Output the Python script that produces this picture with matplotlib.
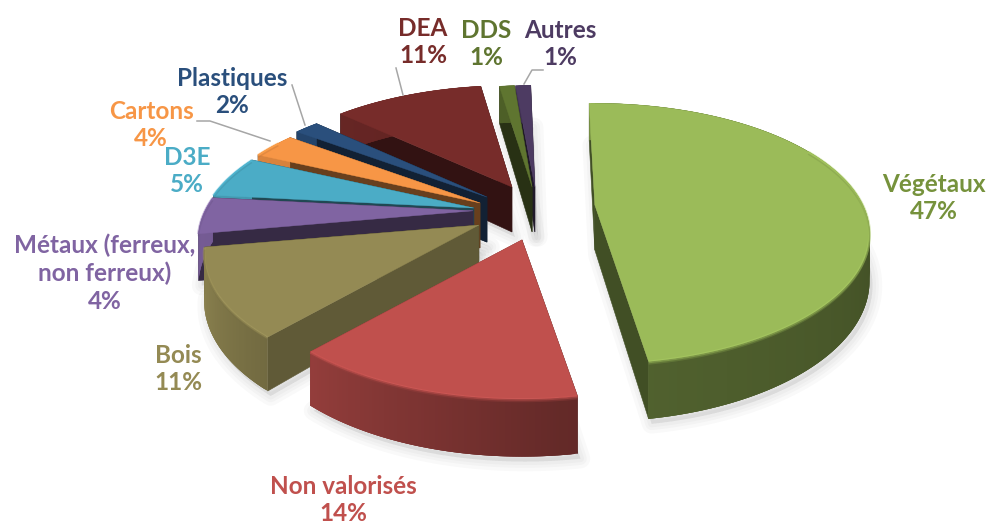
import numpy as np
import matplotlib
matplotlib.use("Agg")
import matplotlib.pyplot as plt
from matplotlib.collections import PolyCollection
from matplotlib.colors import to_rgb

# data
categories = ["Végétaux", "Non valorisés", "Bois", "Métaux (ferreux,\nnon ferreux)", "D3E",
              "Cartons", "Plastiques", "DEA", "DDS", "Autres"]
shares = [47, 14, 11, 4, 5, 4, 2, 11, 1, 1]

# look of the slices
colors = ["#9BBB59", "#C0504D", "#948A54", "#8064A2", "#4BACC6",
          "#F79646", "#2A4F7C", "#772C2A", "#5F7530", "#4D3B62"]
text_colors = ["#76923C", "#C0504D", "#948A54", "#8064A2", "#4BACC6",
               "#F79646", "#2A4F7C", "#772C2A", "#5F7530", "#4D3B62"]
# explosion of each slice, in units of 280 px, on the screen
explode_x = [0.41, 0.15, -0.004, -0.025, -0.022, 0.0, 0.025, 0.114, 0.186, 0.196]
explode_y = [-0.036, 0.089, 0.036, -0.015, -0.025, -0.043, -0.064, -0.10, -0.10, -0.10]
draw_order = [7, 9, 8, 6, 5, 4, 3, 0, 2, 1]
label_x = [934, 343, 178, 105, 187, 151, 232, 423, 486, 560]
label_y = [198, 500, 369, 273, 171, 125, 92, 42, 44, 44]

W, H = 987, 525
cx, cy = 480, 215      # pie centre
unit = 280
R, Ry = 268, 124       # ellipse radii
persp = 0.22           # how much bigger the front gets
depth = 45             # thickness
start = -1.5
# the 3D view is not a clean ellipse, push the angles a bit
warp_a = [0, 170, 220, 260, 285, 310, 360]
warp_d = [0, 3, 3, 2, 6, 1, 0]

# rim brightness by angle (clockwise from top)
shade_a = [0, 90, 170, 220, 250, 360]
shade_f = [0.55, 0.42, 0.52, 0.78, 0.93, 0.8]

plt.rcParams["font.family"] = ["Lato", "DejaVu Sans"]
fig = plt.figure(figsize=(W / 100, H / 100), dpi=100)
ax = fig.add_axes([0, 0, 1, 1])
ax.set_xlim(0, W)
ax.set_ylim(H, 0)
ax.axis("off")


def rim(ox, oy, a):
    # a in degrees, clockwise from the back of the pie
    t = np.radians(a + np.interp(a % 360, warp_a, warp_d))
    X, Y = np.sin(t), np.cos(t)
    s = 1 / (1 + persp * Y)
    return ox + R * X * s, oy - Ry * Y * s, s


def scaled(col, f):
    return tuple(min(1, c * f) for c in to_rgb(col))


edges = start + np.cumsum([0] + shares) * 3.6

# soft shadow under the slices
for i in draw_order:
    ox = cx + unit * explode_x[i]
    oy = cy + unit * explode_y[i]
    a = np.arange(edges[i], edges[i + 1] + 0.5, 0.5)
    x, y, s = rim(ox, oy, a)
    px = np.r_[ox, x] + 3
    py = np.r_[oy + depth, y + depth * s] + 5
    for lw in (14, 9, 5):
        ax.fill(px, py, color="#000000", alpha=0.022, lw=lw, joinstyle="round", zorder=1)

z = 2
for i in draw_order:
    ox = cx + unit * explode_x[i]
    oy = cy + unit * explode_y[i]
    col = colors[i]
    a = np.arange(edges[i], edges[i + 1] + 0.5, 0.5)
    x, y, s = rim(ox, oy, a)
    yb = y + depth * s

    # cut faces, the one further back first
    for k in sorted((0, -1), key=lambda k: y[k]):
        quad = [(ox, oy), (x[k], y[k]), (x[k], yb[k]), (ox, oy + depth)]
        wall = scaled(col, 0.65 if 200 < a[k] < 240 else 0.42)
        ax.add_patch(plt.Polygon(quad, fc=wall, ec=wall, lw=0.4, zorder=z))

    # outer wall, small overlapping quads so the shade can change without seams
    n = len(a)
    verts = [[(x[j], y[j]), (x[min(j + 3, n - 1)], y[min(j + 3, n - 1)]),
              (x[min(j + 3, n - 1)], yb[min(j + 3, n - 1)]), (x[j], yb[j])]
             for j in range(n - 1)]
    mids = a[:-1] % 360
    cols = [scaled(col, f) for f in np.interp(mids, shade_a, shade_f)]
    ax.add_collection(PolyCollection(verts, facecolors=cols, edgecolors="none", zorder=z))

    # top face and its bevel
    ax.fill(np.r_[ox, x], np.r_[oy, y], color=col, lw=0.3, zorder=z)
    front = (a % 360 > 60) & (a % 360 < 300)
    if front.any():
        ax.plot(x[front], y[front] + 0.5, color=scaled(col, 1.1), lw=2, alpha=0.5, zorder=z,
                solid_capstyle="butt")
        ax.plot(x[front], y[front] + 2.5, color=scaled(col, 0.8), lw=1.2, alpha=0.4, zorder=z,
                solid_capstyle="butt")
    z += 1

# leader lines
for lx, ly in [([292, 305], [85, 125]), ([197, 210, 270], [121, 121, 141]),
               ([396, 403], [68, 95]), ([543, 532, 524], [70, 70, 84])]:
    ax.plot(lx, ly, color="#A6A6A6", lw=1.1, zorder=30)

# labels
for i, name in enumerate(categories):
    ax.text(label_x[i], label_y[i], f"{name}\n{shares[i]}%", color=text_colors[i], ha="center",
            va="center", fontsize=17.5, fontweight="bold", linespacing=1.25, zorder=40)

fig.savefig("out.png", dpi=100)
